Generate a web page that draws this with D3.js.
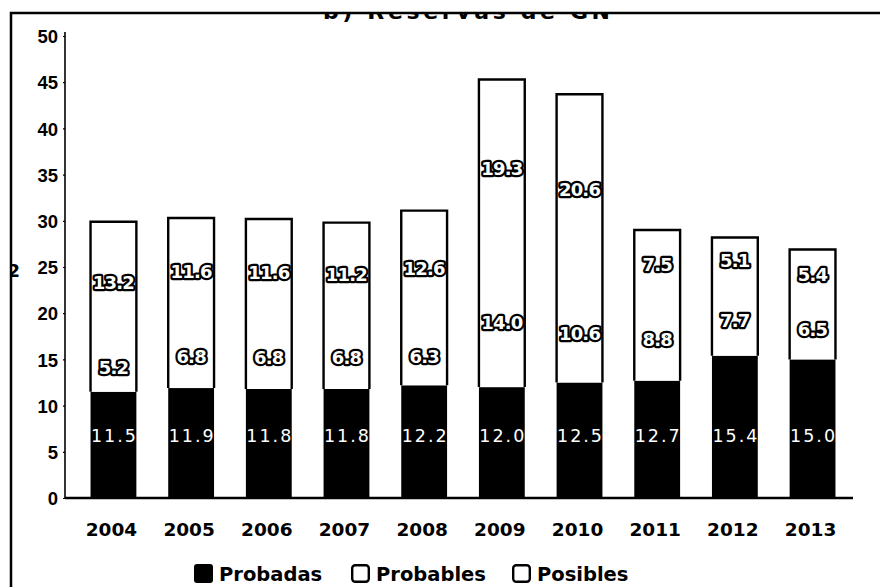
<!DOCTYPE html>
<html>
<head>
<meta charset="utf-8">
<script src="https://cdn.jsdelivr.net/npm/d3@7"></script>
<style>
  html, body { margin: 0; padding: 0; background: #fff; }
  svg { display: block; font-family: 'DejaVu Sans', sans-serif; }
</style>
</head>
<body>
<svg id="chart" width="880" height="587"></svg>
<script>
// values
const years = ['2004', '2005', '2006', '2007', '2008', '2009', '2010', '2011', '2012', '2013'];
const probadas = [11.5, 11.9, 11.8, 11.8, 12.2, 12.0, 12.5, 12.7, 15.4, 15.0];
const probables = [5.2, 6.8, 6.8, 6.8, 6.3, 14.0, 10.6, 8.8, 7.7, 6.5];
const posibles = [13.2, 11.6, 11.6, 11.2, 12.6, 19.3, 20.6, 7.5, 5.1, 5.4];
const seriesNames = ['Probadas', 'Probables', 'Posibles'];
const yTicks = [0, 5, 10, 15, 20, 25, 30, 35, 40, 45, 50];
const titleText = 'b) Reservas de GN';

const svg = d3.select('#chart');
const fill = { Probadas: '#000', Probables: '#fff', Posibles: '#fff' };

const rows = years.map((year, i) => ({
  year,
  Probadas: probadas[i],
  Probables: probables[i],
  Posibles: posibles[i]
}));

const stack = d3.stack().keys(seriesNames)(rows);

const x = d3
  .scaleBand()
  .domain(years)
  .range([75, 851])
  .paddingInner(0.41)
  .paddingOuter(0.2);

const y = d3
  .scaleLinear()
  .domain([0, 50])
  .range([498, 36]);

// title, only its lower part shows under the frame line
svg
  .append('clipPath')
  .attr('id', 'title-clip')
  .append('rect')
  .attr('x', 0)
  .attr('y', 13)
  .attr('width', 880)
  .attr('height', 20);

svg
  .append('text')
  .attr('clip-path', 'url(#title-clip)')
  .attr('x', 323)
  .attr('y', 19)
  .attr('font-size', 22)
  .attr('font-weight', 700)
  .attr('textLength', 287)
  .attr('lengthAdjust', 'spacing')
  .text(titleText);

// frame
svg
  .append('path')
  .attr('d', 'M11,587 L11,13 L880,13')
  .attr('fill', 'none')
  .attr('stroke', '#000')
  .attr('stroke-width', 2.5);

// stray glyph cut by the frame on the left
svg
  .append('clipPath')
  .attr('id', 'stray-clip')
  .append('rect')
  .attr('x', 12)
  .attr('y', 250)
  .attr('width', 10)
  .attr('height', 40);

svg
  .append('text')
  .attr('clip-path', 'url(#stray-clip)')
  .attr('x', 20)
  .attr('y', 277)
  .attr('text-anchor', 'end')
  .attr('font-size', 18)
  .attr('font-weight', 700)
  .text('2');

// y axis
const yAxis = svg
  .append('g')
  .attr('class', 'axis y')
  .attr('transform', 'translate(65, 0)')
  .call(
    d3
      .axisLeft(y)
      .tickValues(yTicks)
      .tickSize(2)
      .tickPadding(5)
      .tickFormat(d3.format('d'))
  );
yAxis.select('.domain').attr('d', `M0,${y(0)}V32`).attr('stroke-width', 1.6);
yAxis.selectAll('.tick line').attr('stroke-width', 1.2);
yAxis
  .selectAll('.tick text')
  .attr('font-size', 18.5)
  .attr('font-weight', 700)
  .attr('fill', '#000')
  .attr('dy', '0.36em');

// bars
const layer = svg
  .selectAll('g.layer')
  .data(stack)
  .enter()
  .append('g')
  .attr('class', 'layer')
  .attr('fill', d => fill[d.key]);

layer
  .selectAll('rect')
  .data(d => d)
  .enter()
  .append('rect')
  .attr('x', d => x(d.data.year))
  .attr('y', d => y(d[1]))
  .attr('width', x.bandwidth())
  .attr('height', d => y(d[0]) - y(d[1]));

// outline of the white part of each bar (no divider between segments)
svg
  .append('g')
  .attr('class', 'outline')
  .selectAll('path')
  .data(rows)
  .enter()
  .append('path')
  .attr('fill', 'none')
  .attr('stroke', '#000')
  .attr('stroke-width', 2.4)
  .attr('d', d => {
    const x0 = x(d.year);
    const x1 = x0 + x.bandwidth();
    const top = y(d.Probadas + d.Probables + d.Posibles);
    const base = y(d.Probadas);
    return `M${x0},${base}V${top}H${x1}V${base}`;
  });

// baseline
svg
  .append('line')
  .attr('x1', 65)
  .attr('x2', 853)
  .attr('y1', y(0))
  .attr('y2', y(0))
  .attr('stroke', '#000')
  .attr('stroke-width', 2.4);

// year labels
svg
  .append('g')
  .attr('class', 'axis x')
  .selectAll('text')
  .data(years)
  .enter()
  .append('text')
  .attr('x', d => x(d) + x.bandwidth() / 2 - 2)
  .attr('y', 536)
  .attr('text-anchor', 'middle')
  .attr('font-size', 18.5)
  .attr('font-weight', 700)
  .text(d => d);

// value labels
const fmt = d3.format('.1f');

// Probadas: thin white text, all at the same height
svg
  .append('g')
  .attr('class', 'labels probadas')
  .selectAll('text')
  .data(rows)
  .enter()
  .append('text')
  .attr('x', d => x(d.year) + x.bandwidth() / 2 + 1)
  .attr('y', y(6.7))
  .attr('dy', '0.36em')
  .attr('text-anchor', 'middle')
  .attr('font-size', 17.5)
  .attr('letter-spacing', 2)
  .attr('fill', '#fff')
  .text(d => fmt(d.Probadas));

// Probables and Posibles: white text with a black halo
const haloSeries = stack.filter(s => s.key !== 'Probadas');
svg
  .append('g')
  .attr('class', 'labels halo')
  .selectAll('g')
  .data(haloSeries)
  .enter()
  .append('g')
  .selectAll('text')
  .data(s => s.map(d => ({ v: d[1] - d[0], mid: (d[0] + d[1]) / 2, year: d.data.year })))
  .enter()
  .append('text')
  .attr('x', d => x(d.year) + x.bandwidth() / 2)
  .attr('y', d => y(d.mid))
  .attr('dy', '0.36em')
  .attr('text-anchor', 'middle')
  .attr('font-size', 18)
  .attr('font-weight', 700)
  .attr('letter-spacing', -0.8)
  .attr('fill', '#fff')
  .attr('stroke', '#000')
  .attr('stroke-width', 4.5)
  .attr('stroke-linejoin', 'round')
  .attr('paint-order', 'stroke')
  .text(d => fmt(d.v));

// legend
const legendX = [194, 351, 512];
const legend = svg
  .append('g')
  .attr('class', 'legend')
  .selectAll('g')
  .data(seriesNames)
  .enter()
  .append('g')
  .attr('transform', (d, i) => `translate(${legendX[i]}, 564)`);

legend
  .append('rect')
  .attr('x', d => (d === 'Probadas' ? 0 : 1.2))
  .attr('y', d => (d === 'Probadas' ? 0 : 1.2))
  .attr('width', d => (d === 'Probadas' ? 19 : 16.6))
  .attr('height', d => (d === 'Probadas' ? 19 : 16.6))
  .attr('rx', 3)
  .attr('fill', d => fill[d])
  .attr('stroke', '#000')
  .attr('stroke-width', d => (d === 'Probadas' ? 0 : 2.4));

legend
  .append('text')
  .attr('x', 25)
  .attr('y', 17)
  .attr('font-size', 19.5)
  .attr('font-weight', 700)
  .text(d => d);
</script>
</body>
</html>
